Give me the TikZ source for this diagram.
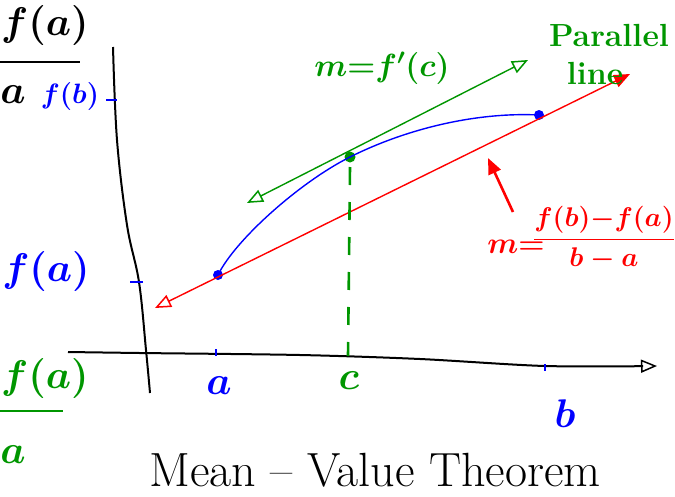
\RequirePackage{fix-cm}
\documentclass[tikz,border=0pt]{standalone}
\usetikzlibrary{arrows.meta}
\definecolor{hgreen}{RGB}{0,150,0}
\tikzset{
  opentip/.tip={Triangle[open, length=16pt, width=13pt, line width=1.5pt]},
  fulltip/.tip={Triangle[length=16pt, width=13pt]}
}
\begin{document}
\begin{tikzpicture}[x=1pt,y=-1pt,
  lbl/.style={inner sep=0pt, font=\fontsize{40}{44}\selectfont\boldmath},
  midlbl/.style={inner sep=0pt, font=\fontsize{30}{34}\selectfont\boldmath},
  biglbl/.style={inner sep=0pt, font=\fontsize{48}{52}\selectfont},
  wordlbl/.style={inner sep=0pt, font=\fontsize{32}{36}\selectfont\bfseries},
  dotb/.style={circle, fill=blue, inner sep=0pt, minimum size=10pt},
  dotg/.style={circle, fill=hgreen, inner sep=0pt, minimum size=11pt},
  thinline/.style={line width=1.4pt},
  axisline/.style={line width=2pt, black},
  tick/.style={line width=2.6pt, blue}
  ]
\useasboundingbox (0,0) rectangle (675,496);

% y-axis
\coordinate (Y0) at (150,393);
\coordinate (Y1) at (113,47);
\draw[axisline] plot[smooth, tension=0.6] coordinates {(Y0) (146,350) (139,282) (127,225) (117,140) (Y1)};
% x-axis
\coordinate (X0) at (68,352);
\coordinate (X1) at (657,366);
\draw[axisline, -{opentip}] plot[smooth] coordinates {(X0) (140,353) (300,355) (420,359) (545,366) (X1)};

% points
\node[dotb] (A) at (218,275) {};
\node[dotb] (B) at (539,115) {};
\node[dotg] (C) at (350,157) {};

% blue curve
\draw[thinline, blue] (A.center) .. controls (235,240) and (300,182) .. (C.center)
  .. controls (410,127) and (480,112) .. (B.center);

% red secant line
\coordinate (R1) at (155,308);
\coordinate (R2) at (630,74);
\draw[thinline, red, {opentip}-{fulltip}] (R1) -- (R2);

% green tangent line
\coordinate (G1) at (247,203);
\coordinate (G2) at (528,60);
\draw[thinline, hgreen, {opentip}-{opentip}] (G1) -- (G2);

% dashed line c
\coordinate (Cx) at (348,356);
\draw[hgreen, line width=2.6pt, dash pattern=on 18pt off 17pt] ([yshift=-10pt]C.center) -- (Cx);

% ticks
\draw[tick] (216,349) -- (216,356);
\draw[tick] (545,364) -- (545,371);
\draw[tick] (106,100) -- (117,100);
\draw[tick] (130,282) -- (143,282);

% axis labels
\node[midlbl, blue, font=\fontsize{28}{32}\selectfont\boldmath] (fb) at (70,96) {$f(b)$};
\node[lbl, blue] (fa) at (46,271) {$f(a)$};
\node[lbl, blue] (la) at (219,386) {$a$};
\node[lbl, hgreen] (lc) at (349,381) {$c$};
\node[lbl, blue] (lb) at (565,414) {$b$};

% green annotations
\node[midlbl, hgreen, font=\fontsize{32}{36}\selectfont\boldmath] (mg) at (382,68) {$m{=}f'(c)$};
\node[wordlbl, hgreen] (par1) at (609,35) {Parallel};
\node[wordlbl, hgreen] (par2) at (595,73) {line};

% red annotations
\coordinate (RA1) at (513,212);
\coordinate (RA2) at (488,158);
\draw[red, line width=2.6pt, -{fulltip}] (RA1) -- (RA2);
\node[midlbl, red] (mr) at (516,247) {$m{=}$};
\node[midlbl, red, font=\fontsize{27}{30}\selectfont\boldmath] (fr) at (604,238) {$\displaystyle\frac{f(b){-}f(a)}{b-a}$};

% fragments at left edge
\node[lbl, anchor=west] (tl) at (1,25) {$f(a)$};
\draw[line width=1.4pt] (0,62) -- (80,62);
\node[lbl] (tla) at (13,95) {$a$};
\node[lbl, hgreen, anchor=west] (bl) at (1,378) {$f(a)$};
\draw[line width=1.4pt, hgreen] (0,411) -- (63,411);
\node[lbl, hgreen] (bla) at (13,455) {$a$};

% title
\node[biglbl] (title) at (375,470) {Mean -- Value Theorem};
\end{tikzpicture}
\end{document}
